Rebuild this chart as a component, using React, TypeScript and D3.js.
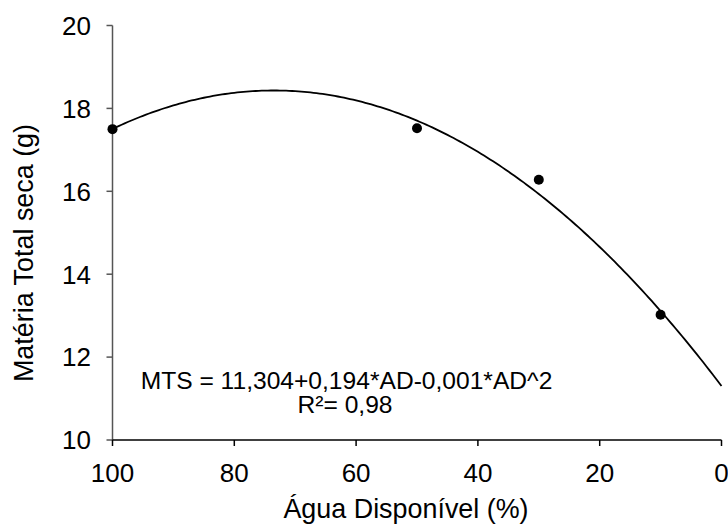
import React from 'react'
import * as d3 from 'd3'

// observed points (Água disponível %, matéria total seca g)
const waterLevels = [100, 50, 30, 10]
const dryMatter = [17.5, 17.52, 16.28, 13.02]

// quadratic trendline coefficients (as drawn)
const trendA = 11.304
const trendB = 0.194
const trendC = -0.00132

const xTicks = [100, 80, 60, 40, 20, 0]
const yTicks = [10, 12, 14, 16, 18, 20]

const equationText = 'MTS = 11,304+0,194*AD-0,001*AD^2'
const r2Text = 'R²= 0,98'

const font = '"Liberation Sans", Arial, sans-serif'

export default function App() {
  const width = 728
  const height = 527

  const x = d3.scaleLinear().domain([100, 0]).range([112.5, 721.5])
  const y = d3.scaleLinear().domain([10, 20]).range([440, 25.5])

  const curveX = d3.range(0, 100.5, 0.5)
  const line = d3.line<number>()
    .x(d => x(d))
    .y(d => y(trendA + trendB * d + trendC * d * d))

  const x0 = x(100)
  const x1 = x(0)
  const yBottom = y(10)

  return (
    <svg width={width} height={height}
      style={{ position: 'absolute', left: 0, top: 0, background: '#fff' }}
      fontFamily={font}>
      {/* y axis */}
      <line x1={x0} x2={x0} y1={y(20)} y2={yBottom} stroke="#555" strokeWidth={1.5} />
      {yTicks.map(t => (
        <g key={`y${t}`}>
          <line x1={x0 - 6} x2={x0} y1={y(t)} y2={y(t)} stroke="#555" strokeWidth={1.5} />
          <text x={91} y={y(t)} dy="0.36em" textAnchor="end" fontSize={26} fill="#000">{t}</text>
        </g>
      ))}
      {/* x axis */}
      <line x1={x0} x2={x1} y1={yBottom} y2={yBottom} stroke="#000" strokeWidth={1.5} />
      {xTicks.map(t => (
        <g key={`x${t}`}>
          <line x1={x(t)} x2={x(t)} y1={yBottom} y2={yBottom + 6} stroke="#000" strokeWidth={1.5} />
          <text x={x(t)} y={481.5} textAnchor="middle" fontSize={26} fill="#000">{t}</text>
        </g>
      ))}

      {/* trendline */}
      <path d={line(curveX) || ''} fill="none" stroke="#000" strokeWidth={1.8} />

      {/* points */}
      {waterLevels.map((w, i) => (
        <circle key={`p${i}`} cx={x(w)} cy={y(dryMatter[i])} r={5} fill="#000" />
      ))}

      {/* equation */}
      <text x={346.5} y={388.5} textAnchor="middle" fontSize={24.6} fill="#000">{equationText}</text>
      <text x={345} y={413} textAnchor="middle" fontSize={24.6} fill="#000">{r2Text}</text>

      {/* axis titles */}
      <text x={406} y={518} textAnchor="middle" fontSize={26.9} fill="#000">Água Disponível (%)</text>
      <text transform={`translate(33,253) rotate(-90)`} textAnchor="middle" fontSize={26.9} fill="#000">Matéria Total seca (g)</text>
    </svg>
  )
}
